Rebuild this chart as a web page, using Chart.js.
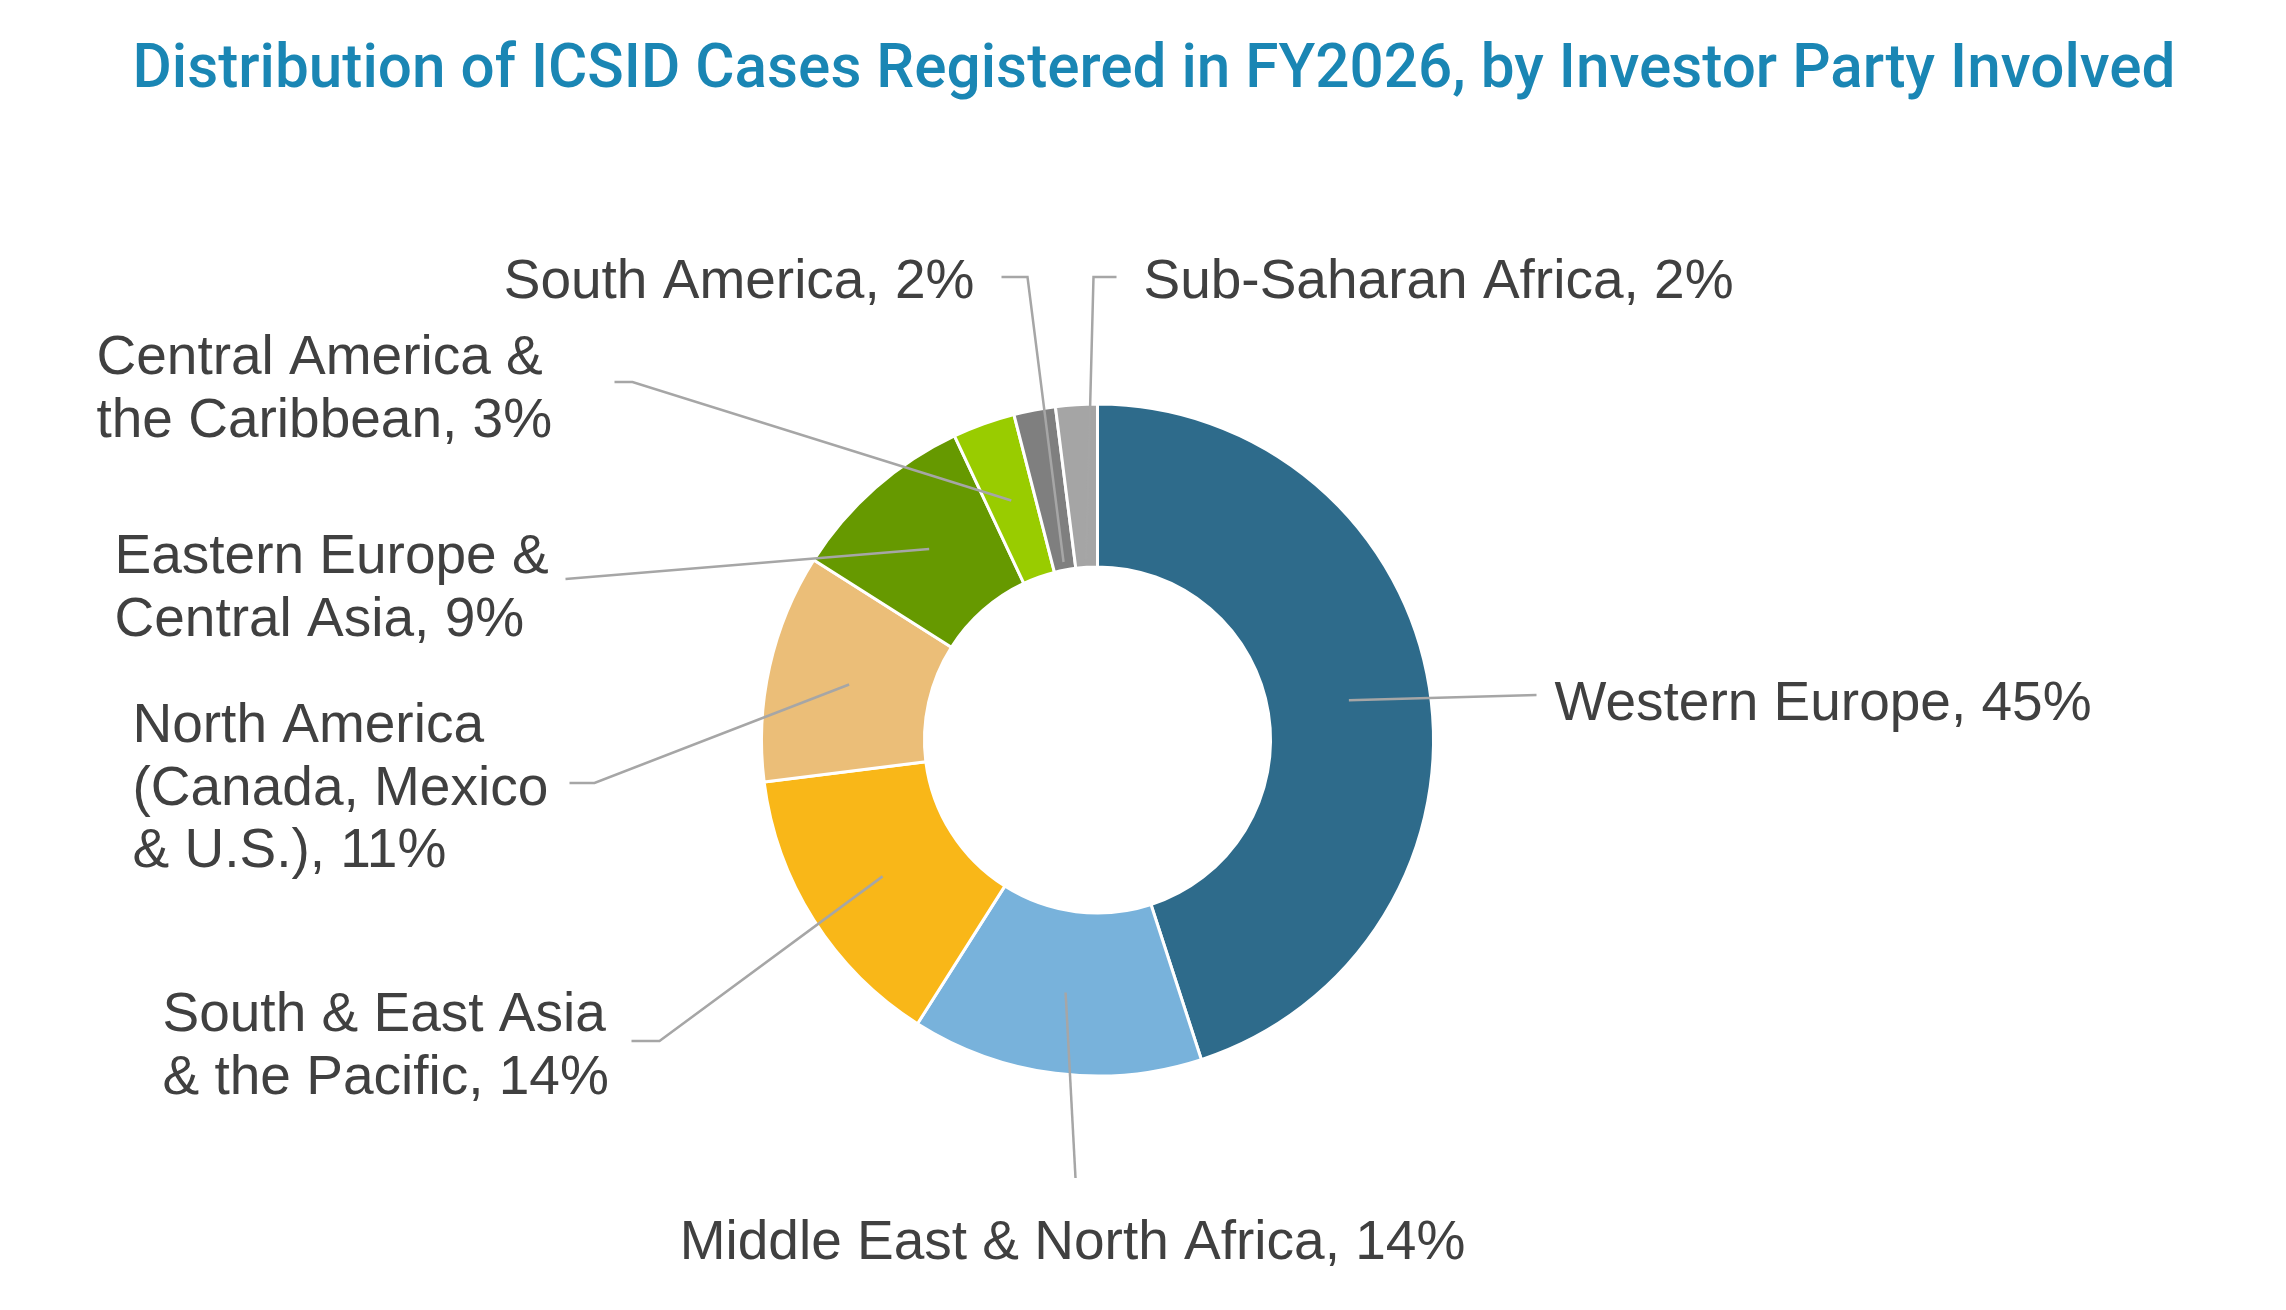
<!DOCTYPE html>
<html>
<head>
<meta charset="utf-8">
<script src="https://cdn.jsdelivr.net/npm/chart.js@4.4.1/dist/chart.umd.min.js"></script>
<style>
  html, body { margin: 0; padding: 0; background: #fff; }
  #wrap { width: 2286px; height: 1310px; position: relative; }
</style>
</head>
<body>
<div id="wrap"><canvas id="donut"></canvas></div>
<script>
// data
const regions = [
  'Western Europe',
  'Middle East & North Africa',
  'South & East Asia & the Pacific',
  'North America (Canada, Mexico & U.S.)',
  'Eastern Europe & Central Asia',
  'Central America & the Caribbean',
  'South America',
  'Sub-Saharan Africa',
];
const shares = [45, 14, 14, 11, 9, 3, 2, 2];
const labelLines = [
  ['Western Europe, 45%'],
  ['Middle East & North Africa, 14%'],
  ['South & East Asia', '& the Pacific, 14%'],
  ['North America', '(Canada, Mexico', '& U.S.), 11%'],
  ['Eastern Europe &', 'Central Asia, 9%'],
  ['Central America &', 'the Caribbean, 3%'],
  ['South America, 2%'],
  ['Sub-Saharan Africa, 2%'],
];
const sliceColors = ['#2E6B8B', '#78B2DB', '#F9B718', '#EBBE78', '#669900', '#99CC00', '#7F7F7F', '#A5A5A5'];
const titleText = 'Distribution of ICSID Cases Registered in FY2026, by Investor Party Involved';

// label placement, offsets from the donut centre (px)
// tx/ty: text anchor (first baseline), align; end: line end near text; elbow: optional bend; r: where the line meets the ring (0 inner .. 1 outer)
const labelPlaces = [
  { tx: 457, ty: -20, align: 'left', end: [439, -45], elbow: null, r: 0.5 },
  { tx: -25, ty: 519, align: 'center', end: [-22, 438], elbow: null, r: 0.5 },
  { tx: -935, ty: 291, align: 'left', end: [-466, 301], elbow: [-438, 301], r: 0.5 },
  { tx: -965, ty: 2, align: 'left', end: [-528, 43], elbow: [-503, 43], r: 0.5 },
  { tx: -983, ty: -167, align: 'left', end: [-532, -161], elbow: null, r: 0.5 },
  { tx: -1001, ty: -366, align: 'left', end: [-483, -358], elbow: [-465, -358], r: 0.5 },
  { tx: -123, ty: -442, align: 'right', end: [-96, -463], elbow: [-70, -463], r: 0.05 },
  { tx: 46, ty: -442, align: 'left', end: [19, -463], elbow: [-4, -463], r: 0.05 },
];
const lineHeight = 62.5;

// condensed title: squeeze a normal face to the reference width
const condensedTitle = {
  id: 'condensedTitle',
  afterDraw(chart) {
    const ctx = chart.ctx;
    ctx.save();
    ctx.font = '500 62px Roboto, "Liberation Sans", sans-serif';
    ctx.fillStyle = '#1A86B4';
    ctx.textAlign = 'center';
    ctx.textBaseline = 'alphabetic';
    const w = ctx.measureText(titleText).width;
    const sx = Math.min(1, 2043 / w);
    ctx.translate(1154, 87);
    ctx.scale(sx, 1);
    ctx.fillText(titleText, 0, 0);
    ctx.restore();
  },
};

const leaderLabels = {
  id: 'leaderLabels',
  afterDatasetsDraw(chart) {
    const ctx = chart.ctx;
    const arcs = chart.getDatasetMeta(0).data;
    ctx.save();
    arcs.forEach((arc, i) => {
      const p = labelPlaces[i];
      const cx = arc.x, cy = arc.y;
      const mid = (arc.startAngle + arc.endAngle) / 2;
      const rr = arc.innerRadius + p.r * (arc.outerRadius - arc.innerRadius);
      const ax = cx + Math.cos(mid) * rr;
      const ay = cy + Math.sin(mid) * rr;

      ctx.strokeStyle = '#A6A6A6';
      ctx.lineWidth = 2.5;
      ctx.beginPath();
      ctx.moveTo(ax, ay);
      if (p.elbow) ctx.lineTo(cx + p.elbow[0], cy + p.elbow[1]);
      ctx.lineTo(cx + p.end[0], cy + p.end[1]);
      ctx.stroke();

      ctx.fillStyle = '#404040';
      ctx.font = '55px "Liberation Sans", Arial, sans-serif';
      ctx.textAlign = p.align;
      ctx.textBaseline = 'alphabetic';
      labelLines[i].forEach((t, k) => {
        ctx.fillText(t, cx + p.tx, cy + p.ty + k * lineHeight);
      });
    });
    ctx.restore();
  },
};

new Chart(document.getElementById('donut'), {
  type: 'doughnut',
  data: {
    labels: regions,
    datasets: [
      {
        data: shares,
        backgroundColor: sliceColors,
        borderColor: '#ffffff',
        borderWidth: 3,
        hoverOffset: 0,
      },
    ],
  },
  options: {
    responsive: true,
    maintainAspectRatio: false,
    animation: false,
    cutout: '51.5%',
    layout: {
      padding: { left: 760, right: 851, top: 402, bottom: 232 },
    },
    plugins: {
      legend: { display: false },
      tooltip: { enabled: false },
      title: { display: false },
    },
  },
  plugins: [leaderLabels, condensedTitle],
});
</script>
</body>
</html>
